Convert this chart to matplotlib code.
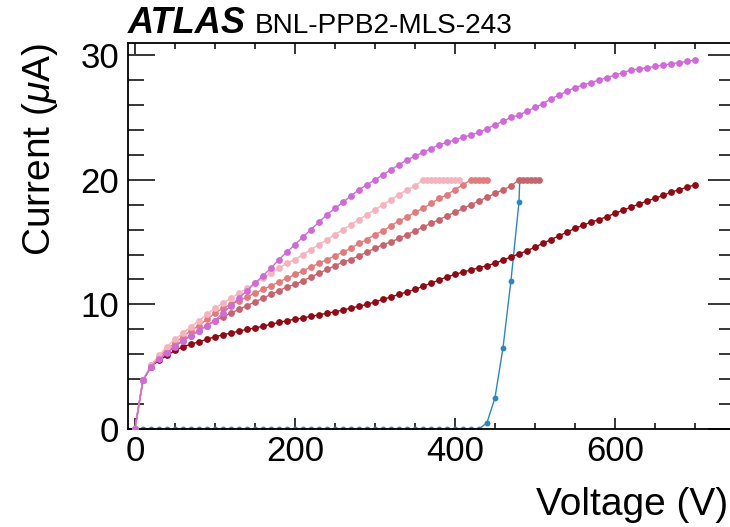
import matplotlib
matplotlib.use("Agg")
import matplotlib.pyplot as plt
from matplotlib.ticker import MultipleLocator

# ---------------- data ----------------
v_full = list(range(0, 701, 10))

i_darkred = [0.0, 3.9, 5.0, 5.5, 5.9, 6.3, 6.6, 6.8, 7.0, 7.2,
             7.4, 7.55, 7.7, 7.85, 8.0, 8.1, 8.25, 8.4, 8.55, 8.7,
             8.8, 8.9, 9.05, 9.15, 9.3, 9.4, 9.55, 9.7, 9.85, 10.0,
             10.2, 10.4, 10.6, 10.8, 11.0, 11.2, 11.45, 11.7, 11.95, 12.2,
             12.4, 12.6, 12.75, 12.95, 13.1, 13.3, 13.55, 13.8, 14.05, 14.3,
             14.6, 14.9, 15.2, 15.5, 15.8, 16.1, 16.35, 16.6, 16.8, 17.05,
             17.3, 17.55, 17.8, 18.05, 18.3, 18.5, 18.75, 19.0, 19.2, 19.4,
             19.6]

i_magenta = [0.0, 3.9, 5.0, 5.6, 6.1, 6.6, 7.1, 7.5, 7.9, 8.3,
             8.7, 9.3, 9.9, 10.5, 11.1, 11.7, 12.3, 12.9, 13.6, 14.2,
             14.8, 15.4, 16.0, 16.6, 17.2, 17.7, 18.2, 18.7, 19.2, 19.6,
             20.0, 20.4, 20.8, 21.2, 21.6, 21.9, 22.2, 22.5, 22.8, 23.0,
             23.2, 23.4, 23.6, 23.8, 24.1, 24.4, 24.7, 25.0, 25.2, 25.5,
             25.8, 26.1, 26.5, 26.8, 27.1, 27.4, 27.6, 27.8, 28.0, 28.2,
             28.4, 28.6, 28.8, 28.9, 29.0, 29.1, 29.2, 29.3, 29.4, 29.5,
             29.6]

v_pink = [0, 10, 20, 30, 40, 50, 60, 70, 80, 90, 100, 110, 120, 130, 140,
          150, 160, 170, 180, 190, 200, 210, 220, 230, 240, 250, 260, 270,
          280, 290, 300, 310, 320, 330, 340, 350,
          360, 365, 370, 375, 380, 385, 390, 395, 400, 405]
i_pink = [0.0, 3.9, 5.1, 5.9, 6.6, 7.2, 7.7, 8.2, 8.7, 9.2, 9.7, 10.1, 10.5,
          10.9, 11.3, 11.7, 12.1, 12.5, 12.9, 13.3, 13.6, 14.0, 14.4, 14.8,
          15.2, 15.6, 16.0, 16.4, 16.8, 17.2, 17.6, 18.0, 18.4, 18.8, 19.2,
          19.5,
          20.0, 20.0, 20.0, 20.0, 20.0, 20.0, 20.0, 20.0, 20.0, 20.0]

v_salmon = [0, 10, 20, 30, 40, 50, 60, 70, 80, 90, 100, 110, 120, 130, 140,
            150, 160, 170, 180, 190, 200, 210, 220, 230, 240, 250, 260, 270,
            280, 290, 300, 310, 320, 330, 340, 350, 360, 370, 380, 390, 400,
            410, 420, 425, 430, 435, 440]
i_salmon = [0.0, 3.9, 5.1, 5.8, 6.4, 6.9, 7.4, 7.9, 8.3, 8.8, 9.3, 9.7, 10.0,
            10.3, 10.6, 10.9, 11.2, 11.5, 11.8, 12.1, 12.4, 12.7, 13.0, 13.3,
            13.6, 13.9, 14.2, 14.5, 14.9, 15.2, 15.6, 15.9, 16.3, 16.7, 17.0,
            17.4, 17.7, 18.1, 18.5, 18.8, 19.2, 19.6,
            20.0, 20.0, 20.0, 20.0, 20.0]

v_rosy = [0, 10, 20, 30, 40, 50, 60, 70, 80, 90, 100, 110, 120, 130, 140,
          150, 160, 170, 180, 190, 200, 210, 220, 230, 240, 250, 260, 270,
          280, 290, 300, 310, 320, 330, 340, 350, 360, 370, 380, 390, 400,
          410, 420, 430, 440, 450, 460, 470, 480, 485, 490, 495, 500, 505]
i_rosy = [0.0, 3.9, 5.0, 5.7, 6.2, 6.7, 7.1, 7.5, 7.9, 8.3, 8.7, 9.0, 9.3,
          9.6, 9.9, 10.2, 10.5, 10.8, 11.1, 11.4, 11.6, 11.9, 12.2, 12.5,
          12.8, 13.1, 13.4, 13.6, 13.9, 14.2, 14.5, 14.8, 15.0, 15.3, 15.6,
          15.9, 16.2, 16.5, 16.8, 17.1, 17.4, 17.7, 18.0, 18.3, 18.6, 18.9,
          19.2, 19.5, 20.0, 20.0, 20.0, 20.0, 20.0, 20.0]

v_blue = [0, 10, 20, 30, 40, 50, 60, 70, 80, 90, 100, 110, 120, 130, 140,
          150, 160, 170, 180, 190, 200, 210, 220, 230, 240, 250, 260, 270,
          280, 290, 300, 310, 320, 330, 340, 350, 360, 370, 380, 390, 400,
          410, 420, 430, 440, 450, 460, 470, 480, 481]
i_blue = [0.0] * 44 + [0.5, 2.5, 6.5, 11.9, 18.2, 20.0]

title_bold = "ATLAS"
title_rest = "BNL-PPB2-MLS-243"
xlabel = "Voltage (V)"
ylabel = r"Current ($\mu$A)"

# ---------------- figure ----------------
plt.rcParams['font.family'] = ['Liberation Sans', 'DejaVu Sans']
plt.rcParams['mathtext.fontset'] = 'custom'
plt.rcParams['mathtext.rm'] = 'Liberation Sans'
plt.rcParams['mathtext.it'] = 'Liberation Sans:italic'

W, H = 730, 527
fig = plt.figure(figsize=(W / 100, H / 100), dpi=100)
L, R, T, B = 127.7, 735.0, 42.7, 429.0
ax = fig.add_axes([L / W, 1 - B / H, (R - L) / W, (B - T) / H])

ms = 4.9
# drawn bottom to top
ax.plot(v_blue, i_blue, '-', color='#2e86c1', lw=1.0, marker='o', ms=4.2,
        mew=0, zorder=2)
series = [
    (v_full, i_darkred, '#8e0a14'),
    (v_rosy, i_rosy, '#c7636d'),
    (v_salmon, i_salmon, '#e27b7b'),
    (v_pink, i_pink, '#f6b3bf'),
    (v_full, i_magenta, '#cf6ad8'),
]
for vx, iy, c in series:
    ax.plot(vx, iy, '-', color=c, lw=1.0, marker='o', ms=ms, mew=0, zorder=3)

ax.set_xlim(-9, 750)
ax.set_ylim(0, 31)

ax.xaxis.set_major_locator(MultipleLocator(200))
ax.xaxis.set_minor_locator(MultipleLocator(50))
ax.yaxis.set_major_locator(MultipleLocator(10))
ax.yaxis.set_minor_locator(MultipleLocator(2))

ax.tick_params(which='both', direction='in', top=True, right=True,
               width=1.1, labelsize=25, colors='black')
ax.tick_params(axis='x', which='major', length=8, pad=4)
ax.tick_params(axis='x', which='minor', length=4.3)
ax.tick_params(axis='y', which='major', length=19.4, pad=6)
ax.tick_params(axis='y', which='minor', length=11.5)
for s in ax.spines.values():
    s.set_linewidth(1.3)

fig.text(728 / W, 1 - 515 / H, xlabel, ha='right', va='baseline',
         fontsize=28)
fig.text(40.5 / W, 1 - T / H, ylabel, rotation=90, ha='center', va='top',
         fontsize=28)

fig.text(128 / W, 1 - 33 / H, title_bold, fontsize=26, fontweight='bold',
         fontstyle='italic', ha='left', va='baseline')
fig.text(255 / W, 1 - 33 / H, title_rest, fontsize=20.2, ha='left',
         va='baseline')

fig.savefig('out.png', dpi=100)
